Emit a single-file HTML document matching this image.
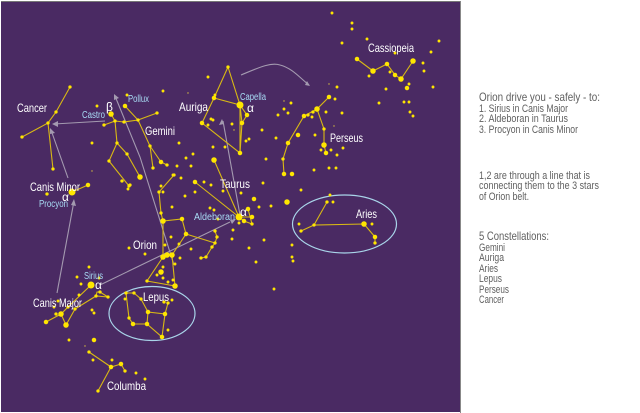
<!DOCTYPE html>
<html><head><meta charset="utf-8"><style>
html,body{margin:0;padding:0;background:#fff;width:640px;height:413px;overflow:hidden}
svg{display:block}
text{font-family:"Liberation Sans",sans-serif}
.w text{fill:#fff;font-size:12px}
.b text{fill:#a8dcf5;font-size:10px}
.d text{fill:#606060;font-size:11px}
</style></head><body>
<svg width="640" height="413" viewBox="0 0 640 413" xmlns="http://www.w3.org/2000/svg">
<rect x="1" y="1" width="460" height="411" fill="#4a2a63"/>
<rect x="1" y="1" width="460" height="1" fill="#777"/>
<rect x="460" y="1" width="1" height="412" fill="#888"/>

<g fill="none" stroke="#a49ab0" stroke-width="1.1">
<path d="M105 121L54 124"/><path d="M68 178L51 130"/><path d="M57 293L74 201"/>
<path d="M174 265L140 157L115 96"/><path d="M100 285L230 222"/><path d="M240 215L223 121"/>
<path d="M241 75C258 68 270 62 280 65C292 68 300 78 309 85"/>
</g>
<g fill="#a49ab0">
<path d="M52 124l6-3v6z"/><path d="M50 128l5 5-5 1z"/><path d="M74 199l-3 6 5 1z"/>
<path d="M114 94l0 6 5-2z"/><path d="M222 119l-3 6 5-1z"/><path d="M310 86l-5-1 2-4z"/><path d="M236 219l-6 1 2 4z"/>
</g>

<g fill="none" stroke="#d9b914" stroke-width="1.1">
<path d="M70 87L56 112L48 123L22 137M48 123L53 169"/>
<path d="M72 192L88 185"/>
<path d="M125 106L138 120L157 113M104 125L115 121L124 122L138 120M111 114L115 121L117 143L109 161L129 186M117 143L127 154L140 177M138 120L150 146L153 168M150 146L161 162L167 165"/>
<path d="M228 67L214 98L202 123L240 153L242 123L240 105L228 67M214 98L240 105L247 115L242 123M240 105L240 153"/>
<path d="M329 97L317 109L304 116L288 143L283 159L284 174M317 109L324 129L324 145L326 153"/>
<path d="M357 59L373 71L387 64L395 75L401 79L413 61"/>
<path d="M214 160L239 217L195 182M239 217L244 221L252 224L248 209M239 217L252 217"/>
<path d="M174 175L159 192L161 213L163 221L182 219L186 234L172 255L167 255L163 257L147 281L175 286L172 255M163 221L163 257M186 234L215 243M215 231L217 237L215 243L212 247L206 257L201 258M186 234L172 255"/>
<path d="M327 202L314 225L364 224L375 237L375 243M314 225L301 231"/>
<path d="M126 293L134 293L141 299L148 312L165 314L162 337L147 324L148 312M147 324L133 324L129 318L126 293M165 314L168 303"/>
<path d="M91 285L68 307L61 314L46 322M61 314L66 325L75 309L96 296L108 297L100 292L97 292L96 296"/>
<path d="M89 352L111 367L121 364L125 371M111 367L98 391"/>
</g>

<g fill="none" stroke="#a9d5ea" stroke-width="1.2">
<ellipse cx="344.5" cy="224" rx="52" ry="29"/>
<ellipse cx="152" cy="313.5" rx="43" ry="27"/>
</g>

<!-- large stars -->
<path fill="none" stroke="#ffe600" stroke-linecap="round" stroke-width="7" d="M72 192h0M91 285h0M240 105h0M239 217h0"/>
<path fill="none" stroke="#ffe600" stroke-linecap="round" stroke-width="5.5" d="M111 114h0M140 177h0M163 221h0M163 257h0M172 255h0M167 255h0M175 286h0M214 160h0M364 224h0M66 325h0M61 314h0M287 202h0M413 61h0M401 79h0M373 71h0M324 145h0M317 109h0M161 272h0"/>
<path fill="none" stroke="#ffe600" stroke-linecap="round" stroke-width="4.5" d="M125 106h0M88 185h0M161 162h0M186 234h0M214 98h0M202 123h0M240 153h0M242 123h0M304 116h0M288 143h0M284 174h0M292 174h0M326 153h0M329 97h0M357 59h0M387 64h0M395 75h0M407 88h0M375 237h0M148 312h0M165 314h0M147 324h0M133 324h0M162 337h0M46 322h0M94 340h0M111 367h0M121 364h0M182 219h0M195 182h0M298 135h0M254 199h0M247 115h0M252 217h0M248 209h0M244 221h0"/>
<path fill="none" stroke="#ffe600" stroke-linecap="round" stroke-width="3.3" d="M70 87h0M56 112h0M48 123h0M22 137h0M53 169h0M157 113h0M104 125h0M115 121h0M124 122h0M138 120h0M117 143h0M109 161h0M129 186h0M127 154h0M150 146h0M153 168h0M167 165h0M228 67h0M174 175h0M159 192h0M161 213h0M215 231h0M217 237h0M215 243h0M212 247h0M206 257h0M201 258h0M147 281h0M252 224h0M283 159h0M308 115h0M313 112h0M324 129h0M327 202h0M314 225h0M301 231h0M375 243h0M126 293h0M134 293h0M141 299h0M129 318h0M168 303h0M164 302h0M96 296h0M108 297h0M100 292h0M75 309h0M68 307h0M56 314h0M89 352h0M125 371h0M98 391h0M47 194h0M122 181h0M130 185h0"/>
<path fill="none" stroke="#ffe600" stroke-linecap="round" stroke-width="2.9" d="M208 77h0M163 91h0M127 95h0M97 106h0M211 119h0M213 120h0M208 125h0M215 95h0M92 143h0M179 143h0M213 147h0M225 147h0M193 154h0M186 158h0M177 166h0M191 166h0M181 178h0M173 175h0M161 186h0M163 192h0M185 196h0M204 182h0M211 185h0M223 191h0M195 192h0M172 207h0M210 208h0M214 210h0M218 219h0M239 223h0M128 189h0M332 13h0M352 23h0M352 29h0M342 43h0M367 39h0M439 41h0M431 52h0M423 63h0M424 71h0M395 53h0M390 72h0M369 76h0M409 84h0M386 89h0M433 87h0M379 103h0M404 102h0M409 102h0M410 112h0M413 116h0M337 87h0M335 99h0M326 112h0M342 113h0M312 117h0M291 103h0M284 109h0M288 113h0M278 115h0M262 130h0M276 138h0M315 135h0M343 148h0M331 150h0M321 150h0M337 155h0M266 159h0M314 170h0M329 168h0M336 168h0M263 183h0M301 190h0M241 193h0M271 206h0M259 207h0M330 195h0M333 202h0M232 124h0M246 141h0M249 139h0M233 230h0M232 239h0M264 240h0M249 248h0M292 245h0M292 257h0M293 261h0M256 262h0M274 289h0M191 249h0M180 258h0M179 244h0M171 237h0M165 245h0M145 254h0M175 264h0M163 267h0M157 275h0M163 278h0M168 282h0M173 280h0M129 248h0M89 267h0M77 277h0M81 284h0M79 295h0M99 278h0M58 301h0M54 307h0M92 310h0M94 313h0M69 340h0M112 360h0M93 360h0M136 373h0M145 379h0M125 299h0M168 330h0M172 300h0M372 224h0M299 224h0"/>
<path fill="none" stroke="#d9c040" stroke-linecap="round" stroke-width="1.4" d="M188 93h0M92 171h0M329 84h0M284 101h0M334 126h0M234 130h0M85 346h0"/>

<g class="w">
<text x="17" y="112" textLength="30" lengthAdjust="spacingAndGlyphs">Cancer</text>
<text x="145" y="135" textLength="30" lengthAdjust="spacingAndGlyphs">Gemini</text>
<text x="179" y="111" textLength="29" lengthAdjust="spacingAndGlyphs">Auriga</text>
<text x="30" y="191" textLength="50" lengthAdjust="spacingAndGlyphs">Canis Minor</text>
<text x="62" y="201">α</text>
<text x="106" y="111">β</text>
<text x="247" y="112">α</text>
<text x="330" y="142" textLength="33" lengthAdjust="spacingAndGlyphs">Perseus</text>
<text x="368" y="52" textLength="46" lengthAdjust="spacingAndGlyphs">Cassiopeia</text>
<text x="220" y="188" textLength="30" lengthAdjust="spacingAndGlyphs">Taurus</text>
<text x="240" y="216">α</text>
<text x="356" y="218" textLength="21" lengthAdjust="spacingAndGlyphs">Aries</text>
<text x="133" y="249" textLength="24" lengthAdjust="spacingAndGlyphs">Orion</text>
<text x="95" y="289">α</text>
<text x="33" y="307" textLength="49" lengthAdjust="spacingAndGlyphs">Canis Major</text>
<text x="143" y="301" textLength="26" lengthAdjust="spacingAndGlyphs">Lepus</text>
<text x="107" y="390" textLength="39" lengthAdjust="spacingAndGlyphs">Columba</text>
</g>
<g class="b">
<text x="82" y="118" textLength="23" lengthAdjust="spacingAndGlyphs">Castro</text>
<text x="128" y="102" textLength="21" lengthAdjust="spacingAndGlyphs">Pollux</text>
<text x="39" y="207" textLength="29" lengthAdjust="spacingAndGlyphs">Procyon</text>
<text x="240" y="100" textLength="26" lengthAdjust="spacingAndGlyphs">Capella</text>
<text x="194" y="220" textLength="41" lengthAdjust="spacingAndGlyphs">Aldeboran</text>
<text x="84" y="279" textLength="19" lengthAdjust="spacingAndGlyphs">Sirius</text>
</g>
<g class="d">
<text x="479" y="101" style="font-size:12px" textLength="121" lengthAdjust="spacingAndGlyphs">Orion drive you - safely - to:</text>
<text x="479" y="112" textLength="89" lengthAdjust="spacingAndGlyphs">1. Sirius in Canis Major</text>
<text x="479" y="122" textLength="89" lengthAdjust="spacingAndGlyphs">2. Aldeboran in Taurus</text>
<text x="479" y="133" textLength="99" lengthAdjust="spacingAndGlyphs">3. Procyon in Canis Minor</text>
<text x="479" y="179" textLength="111" lengthAdjust="spacingAndGlyphs">1,2 are through a line that is</text>
<text x="479" y="189" textLength="120" lengthAdjust="spacingAndGlyphs">connecting them to the 3 stars</text>
<text x="479" y="200" textLength="50" lengthAdjust="spacingAndGlyphs">of Orion belt.</text>
<text x="479" y="240" style="font-size:12px" textLength="70" lengthAdjust="spacingAndGlyphs">5 Constellations:</text>
<text x="479" y="251" textLength="26" lengthAdjust="spacingAndGlyphs">Gemini</text>
<text x="479" y="261" textLength="25" lengthAdjust="spacingAndGlyphs">Auriga</text>
<text x="479" y="272" textLength="19" lengthAdjust="spacingAndGlyphs">Aries</text>
<text x="479" y="282" textLength="23" lengthAdjust="spacingAndGlyphs">Lepus</text>
<text x="479" y="293" textLength="30" lengthAdjust="spacingAndGlyphs">Perseus</text>
<text x="479" y="303" textLength="25" lengthAdjust="spacingAndGlyphs">Cancer</text>
</g>
</svg>
</body></html>
